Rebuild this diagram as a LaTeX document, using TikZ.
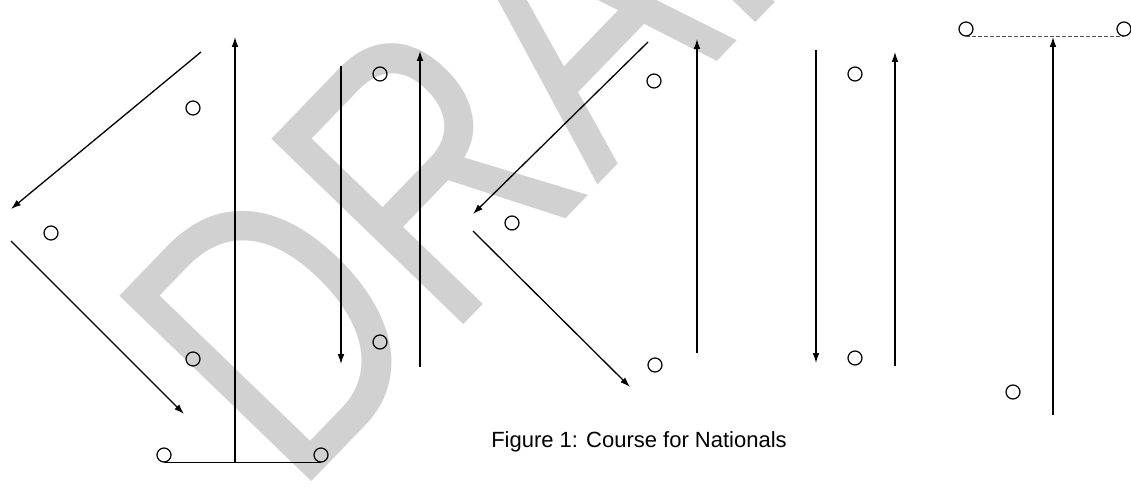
\documentclass[tikz,border=0pt]{standalone}
\usepackage{fontspec}
\setmainfont{Liberation Sans}
\usetikzlibrary{arrows.meta}

\begin{document}
\begin{tikzpicture}[x=0.5pt, y=-0.5pt,
    buoy/.style={draw=black, circle, line width=0.6pt, minimum size=7pt, inner sep=0pt},
    leg/.style={draw=black, line width=0.65pt, -{Latex[length=5pt,width=3.4pt]}},
    plain/.style={draw=black, line width=0.65pt}]
    \useasboundingbox (0,0) rectangle (1131,492);
    % watermark
    \node [text=black!18, rotate=46, anchor=base west, inner sep=0pt,
           font=\fontsize{194}{194}\selectfont] (draft) at (294,500) {\scalebox{0.78}[1]{DRAFT}};
    % left course
    \node [buoy] (a1) at (193,108) {};
    \node [buoy] (a2) at (51,233) {};
    \node [buoy] (a3) at (193,359) {};
    \node [buoy] (a4) at (164,455) {};
    \node [buoy] (a5) at (321,455) {};
    \node [buoy] (a6) at (380,74) {};
    \node [buoy] (a7) at (380,342) {};
    \coordinate (p1) at (201,52);
    \coordinate (p2) at (11,209);
    \coordinate (p3) at (11,241);
    \coordinate (p4) at (184,414);
    \coordinate (p5) at (235,462);
    \coordinate (p6) at (235,37);
    \coordinate (p7) at (341,66);
    \coordinate (p8) at (341,364);
    \coordinate (p9) at (420,367);
    \coordinate (p10) at (420,51);
    \draw [leg] (p1) -- (p2);
    \draw [leg] (p3) -- (p4);
    \draw [plain] (a4.south) -- (a5.south);
    \draw [leg] (p5) -- (p6);
    \draw [leg] (p7) -- (p8);
    \draw [leg] (p9) -- (p10);
    % middle course
    \node [buoy] (b1) at (654,81) {};
    \node [buoy] (b2) at (512,223) {};
    \node [buoy] (b3) at (655,365) {};
    \node [buoy] (b4) at (855,74) {};
    \node [buoy] (b5) at (855,358) {};
    \coordinate (q1) at (648,42);
    \coordinate (q2) at (473,214);
    \coordinate (q3) at (473,231);
    \coordinate (q4) at (630,387);
    \coordinate (q5) at (697,353);
    \coordinate (q6) at (697,39);
    \coordinate (q7) at (816,50);
    \coordinate (q8) at (816,363);
    \coordinate (q9) at (895,366);
    \coordinate (q10) at (895,52);
    \draw [leg] (q1) -- (q2);
    \draw [leg] (q3) -- (q4);
    \draw [leg] (q5) -- (q6);
    \draw [leg] (q7) -- (q8);
    \draw [leg] (q9) -- (q10);
    % right course
    \node [buoy] (c1) at (966,29) {};
    \node [buoy] (c2) at (1124,29) {};
    \node [buoy] (c3) at (1013,392) {};
    \coordinate (r1) at (1053,415);
    \coordinate (r2) at (1053,37);
    \draw [black!70, line width=0.4pt, dash pattern=on 2pt off 1pt] (c1.south) -- (c2.south);
    \draw [leg] (r1) -- (r2);
    % caption
    \node [font=\fontsize{11}{13}\selectfont] (caption) at (639,442) {Figure 1: Course for Nationals};
\end{tikzpicture}
\end{document}
